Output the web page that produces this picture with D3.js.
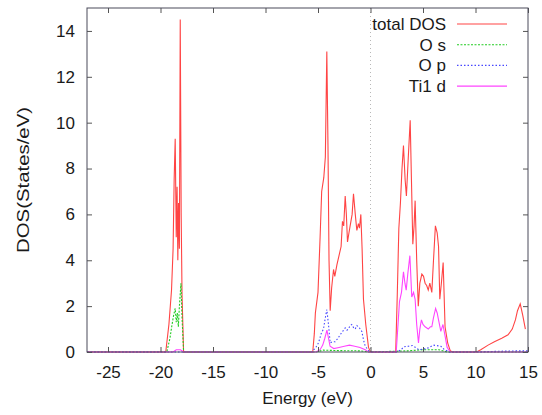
<!DOCTYPE html>
<html>
<head>
<meta charset="utf-8">
<script src="https://cdn.jsdelivr.net/npm/d3@7"></script>
<style>
  html, body { margin: 0; padding: 0; background: #fff; }
  svg text { font-family: "Liberation Sans", Arial, sans-serif; fill: #1a1a1a; }
</style>
</head>
<body>
<svg id="chart" width="542" height="415"></svg>
<script>
// ---- data (energy in eV, DOS in states/eV) ----
const xTicks = [-25, -20, -15, -10, -5, 0, 5, 10, 15];
const yTicks = [0, 2, 4, 6, 8, 10, 12, 14];

const seriesNames = ["total DOS", "O s", "O p", "Ti1 d"];

const totalDos = [
  [-27, 0], [-19.5, 0], [-19.2, 1.2], [-18.95, 2.7], [-18.8, 4.5], [-18.7, 7.5],
  [-18.6, 9.3], [-18.5, 5.0], [-18.42, 7.2], [-18.35, 4.0], [-18.28, 6.5], [-18.2, 4.5],
  [-18.12, 14.5], [-18.03, 6.0], [-17.95, 2.5], [-17.8, 0],
  [-5.5, 0], [-5.35, 0.8], [-5.25, 1.7], [-5.0, 2.6], [-4.8, 5.0], [-4.65, 7.0],
  [-4.45, 7.6], [-4.3, 8.5], [-4.16, 13.1], [-4.05, 9.0], [-3.95, 4.0], [-3.84, 1.8],
  [-3.7, 2.8], [-3.52, 3.6], [-3.4, 3.3], [-3.2, 3.8], [-2.95, 4.3], [-2.8, 4.6],
  [-2.67, 5.7], [-2.55, 5.5], [-2.41, 6.8], [-2.3, 6.0], [-2.19, 4.8], [-2.05, 5.2],
  [-1.94, 5.5], [-1.75, 6.0], [-1.62, 6.9], [-1.45, 6.0], [-1.3, 5.3], [-1.15, 5.6],
  [-1.05, 5.4], [-0.92, 6.0], [-0.8, 4.5], [-0.67, 2.3], [-0.45, 1.2], [-0.19, 0.2], [0, 0],
  [2.4, 0], [2.55, 2.5], [2.7, 5.4], [2.85, 6.5], [3.0, 8.0], [3.14, 9.0], [3.3, 7.5],
  [3.42, 6.8], [3.6, 8.5], [3.78, 10.1], [3.9, 7.5], [4.03, 4.7], [4.15, 5.5], [4.25, 6.6],
  [4.4, 4.0], [4.55, 2.0], [4.7, 3.0], [4.89, 3.4], [5.05, 3.3], [5.2, 3.0], [5.35, 2.9],
  [5.5, 2.7], [5.65, 3.0], [5.84, 2.6], [6.0, 4.0], [6.18, 5.5], [6.35, 5.2], [6.48, 4.6],
  [6.6, 2.3], [6.75, 3.0], [6.92, 3.9], [7.1, 1.1], [7.35, 0.4], [7.6, 0.05], [7.8, 0],
  [10.1, 0], [10.5, 0.1], [11.2, 0.3], [11.8, 0.45], [12.5, 0.6], [13.1, 0.75], [13.5, 1.0],
  [13.8, 1.4], [14.0, 1.8], [14.26, 2.1], [14.5, 1.6], [14.75, 1.0]
];

const oS = [
  [-27, 0], [-19.4, 0], [-19.1, 0.6], [-18.9, 1.2], [-18.75, 1.6], [-18.6, 1.9],
  [-18.5, 1.3], [-18.4, 1.7], [-18.3, 1.1], [-18.2, 2.0], [-18.05, 3.0], [-17.95, 1.5],
  [-17.8, 0], [-5.2, 0], [-4.5, 0.08], [-3, 0.06], [-1, 0.05], [-0.2, 0],
  [3.5, 0.05], [5, 0.1], [6.5, 0.1], [7.3, 0], [15, 0]
];

const oP = [
  [-27, 0], [-5.6, 0], [-5.2, 0.2], [-4.95, 0.4], [-4.7, 0.8], [-4.48, 1.0], [-4.3, 1.5],
  [-4.16, 1.85], [-4.0, 1.2], [-3.84, 0.4], [-3.6, 0.45], [-3.36, 0.45], [-3.1, 0.6],
  [-2.89, 0.75], [-2.65, 0.9], [-2.41, 1.05], [-2.25, 0.95], [-2.1, 1.0], [-1.95, 1.15],
  [-1.78, 1.2], [-1.6, 1.05], [-1.46, 1.0], [-1.3, 1.15], [-1.14, 1.1], [-0.98, 1.0],
  [-0.83, 0.9], [-0.65, 0.5], [-0.5, 0.25], [-0.15, 0.05], [0, 0],
  [2.5, 0], [2.9, 0.1], [3.2, 0.23], [3.6, 0.25], [4.0, 0.28], [4.3, 0.2], [4.6, 0.1],
  [5.0, 0.12], [5.5, 0.18], [6.0, 0.3], [6.3, 0.28], [6.7, 0.25], [7.0, 0.12], [7.5, 0],
  [10, 0], [12, 0.03], [14, 0.05], [15, 0.05]
];

const ti1D = [
  [-27, 0], [-18.8, 0], [-18.5, 0.1], [-18.1, 0.1], [-17.8, 0],
  [-5.2, 0], [-4.8, 0.1], [-4.55, 0.3], [-4.35, 0.6], [-4.15, 0.95], [-4.0, 0.6],
  [-3.85, 0.25], [-3.5, 0.15], [-3.0, 0.2], [-2.5, 0.25], [-2.0, 0.3], [-1.5, 0.25],
  [-1.0, 0.2], [-0.5, 0.1], [-0.2, 0],
  [2.45, 0], [2.62, 1.2], [2.76, 2.2], [2.95, 2.6], [3.14, 3.5], [3.28, 3.0], [3.4, 2.7],
  [3.55, 3.4], [3.75, 4.2], [3.93, 2.4], [4.1, 2.6], [4.25, 2.3], [4.4, 1.2], [4.57, 0.4],
  [4.7, 1.0], [4.85, 1.4], [5.0, 1.2], [5.2, 1.1], [5.5, 1.0], [5.7, 1.1], [5.84, 1.1],
  [6.0, 1.5], [6.2, 1.9], [6.35, 1.7], [6.48, 1.4], [6.7, 0.9], [6.9, 1.2], [7.1, 0.7],
  [7.3, 0.2], [7.6, 0], [15, 0]
];

// ---- layout ----
const margin = { top: 8, right: 14, bottom: 63, left: 87 };
const width = 542 - margin.left - margin.right,
      height = 415 - margin.top - margin.bottom;

const svg = d3.select("#chart");
const g = svg.append("g").attr("transform", `translate(${margin.left},${margin.top})`);

const x = d3.scaleLinear().domain([-27, 15]).range([0, width]);
const y = d3.scaleLinear().domain([0, 15]).range([height, 0]);

const styles = [
  { data: totalDos, color: "#ff4444", dash: null },
  { data: oS,       color: "#22cc22", dash: "2,1.5" },
  { data: oP,       color: "#4848ff", dash: "1.5,2" },
  { data: ti1D,     color: "#ff44ff", dash: null }
];

// Fermi level marker
g.append("line")
    .attr("x1", x(0)).attr("x2", x(0))
    .attr("y1", 0).attr("y2", height)
    .attr("stroke", "#b8b8b8")
    .attr("stroke-dasharray", "1,3");

// curves
const line = d3.line().x(d => x(d[0])).y(d => y(d[1]));

g.selectAll(".dos")
  .data(styles)
  .join("path")
    .attr("class", "dos")
    .attr("d", d => line(d.data))
    .attr("fill", "none")
    .attr("stroke", d => d.color)
    .attr("stroke-width", 1.1)
    .attr("stroke-dasharray", d => d.dash);

// axes, ticks pointing inward on all four sides
const fmt = d => String(d).replace("\u2212", "-");

const xBottom = g.append("g")
    .attr("transform", `translate(0,${height})`)
    .call(d3.axisBottom(x).tickValues(xTicks).tickSize(-5).tickPadding(14).tickFormat(fmt));
const xTop = g.append("g")
    .call(d3.axisTop(x).tickValues(xTicks).tickSize(-5).tickFormat(""));
const yLeft = g.append("g")
    .call(d3.axisLeft(y).tickValues(yTicks).tickSize(-5).tickPadding(12));
const yRight = g.append("g")
    .attr("transform", `translate(${width},0)`)
    .call(d3.axisRight(y).tickValues(yTicks).tickSize(-5).tickFormat(""));

[xBottom, xTop, yLeft, yRight].forEach(a => {
  a.select(".domain").remove();
  a.selectAll(".tick line").attr("stroke", "#555");
  a.selectAll("text").attr("font-size", 17).attr("font-family", null).attr("fill", "#1a1a1a");
});

g.append("rect")
    .attr("width", width).attr("height", height)
    .attr("fill", "none")
    .attr("stroke", "#4a4a5a")
    .attr("stroke-width", 1);

// axis titles
g.append("text")
    .attr("x", width / 2).attr("y", height + 52)
    .attr("text-anchor", "middle")
    .attr("font-size", 17)
    .text("Energy (eV)");

svg.append("text")
    .attr("transform", "translate(29,180) rotate(-90)")
    .attr("text-anchor", "middle")
    .attr("font-size", 17)
    .attr("textLength", 146)
    .attr("lengthAdjust", "spacingAndGlyphs")
    .text("DOS(States/eV)");

// legend
const legend = svg.append("g").attr("transform", "translate(446,24)");
const rows = legend.selectAll("g")
  .data(styles)
  .join("g")
    .attr("transform", (d, i) => `translate(0,${i * 20.7})`);

rows.append("text")
    .attr("text-anchor", "end")
    .attr("dy", "0.35em")
    .attr("font-size", 17)
    .text((d, i) => seriesNames[i]);

rows.append("line")
    .attr("x1", 11).attr("x2", 61)
    .attr("stroke", d => d.color)
    .attr("stroke-width", 1.1)
    .attr("stroke-dasharray", d => d.dash);
</script>
</body>
</html>
